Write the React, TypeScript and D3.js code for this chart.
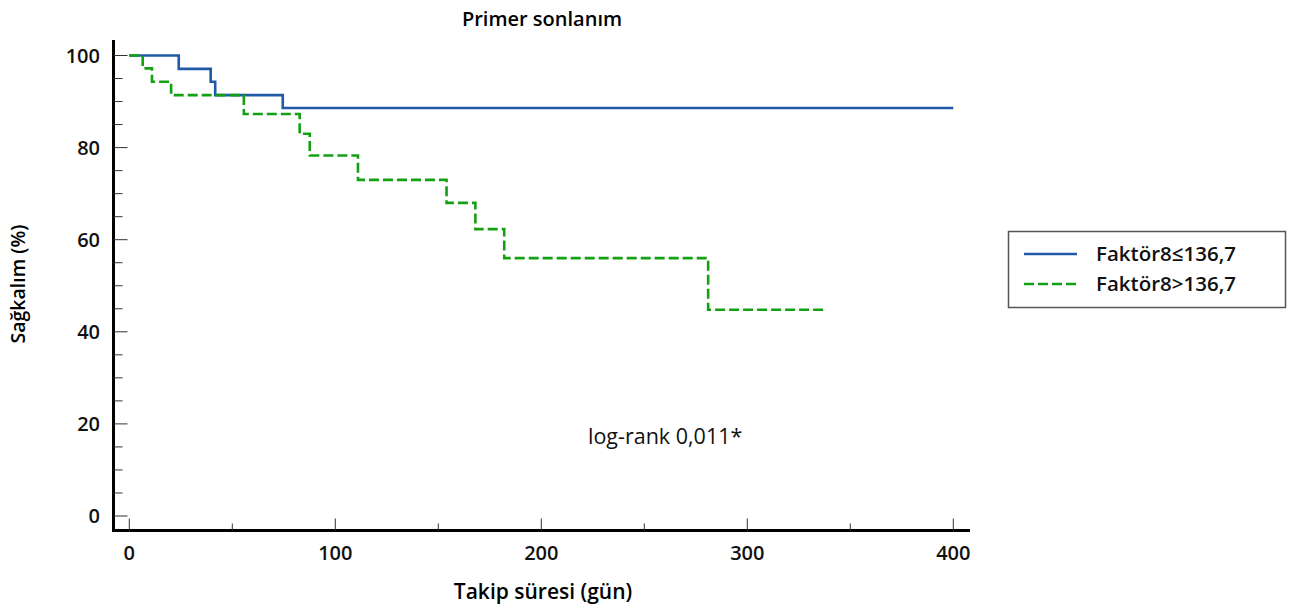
import React, { useEffect, useRef } from "react";
import * as d3 from "d3";

// Kaplan-Meier steps
const lowTimes = [0, 24, 39.5, 41.7, 74.5, 400];
const lowSurv = [100, 97.1, 94.3, 91.4, 88.6, 88.6];
const highTimes = [0, 6.5, 11, 20.3, 55.6, 82.7, 87.6, 111, 154, 168, 182, 281, 338.7];
const highSurv = [100, 97.2, 94.3, 91.4, 87.3, 83.0, 78.3, 73.0, 68.0, 62.3, 56.0, 44.8, 44.8];
const seriesNames = ["Faktör8≤136,7", "Faktör8>136,7"];
const xTicks = [0, 100, 200, 300, 400];
const yTicks = [0, 20, 40, 60, 80, 100];

export default function App() {
  const ref = useRef<SVGSVGElement>(null);

  useEffect(() => {
    const svg = d3.select(ref.current);
    svg.selectAll("*").remove();
    const font = "'Open Sans', sans-serif";

    const x = d3.scaleLinear().domain([0, 400]).range([129.3, 953.3]);
    const y = d3.scaleLinear().domain([0, 100]).range([516, 55.5]);
    const left = 113.5;
    const bottom = 530.5;

    // axes frame
    svg.append("line").attr("x1", left).attr("x2", left).attr("y1", 40).attr("y2", bottom + 1.5)
      .attr("stroke", "#000").attr("stroke-width", 3);
    svg.append("line").attr("x1", left - 1.5).attr("x2", 970).attr("y1", bottom).attr("y2", bottom)
      .attr("stroke", "#000").attr("stroke-width", 3);

    // y ticks (inward)
    d3.range(0, 101, 5).forEach((v) => {
      const major = v % 20 === 0;
      svg.append("line").attr("x1", left).attr("x2", left + (major ? 14 : 9))
        .attr("y1", y(v)).attr("y2", y(v)).attr("stroke", "#333").attr("stroke-width", 1);
    });
    svg.append("g").selectAll("text").data(yTicks).enter().append("text")
      .attr("x", 100).attr("y", (d) => y(d)).attr("dy", "0.36em")
      .attr("text-anchor", "end").attr("font-family", font).attr("font-weight", 600)
      .attr("font-size", 20).attr("fill", "#111").text((d) => d);

    // x ticks (inward)
    d3.range(0, 401, 50).forEach((v) => {
      const major = v % 100 === 0;
      svg.append("line").attr("x1", x(v)).attr("x2", x(v))
        .attr("y1", bottom).attr("y2", bottom - (major ? 12 : 7)).attr("stroke", "#333").attr("stroke-width", 1);
    });
    svg.append("g").selectAll("text").data(xTicks).enter().append("text")
      .attr("x", (d) => x(d)).attr("y", 560)
      .attr("text-anchor", "middle").attr("font-family", font).attr("font-weight", 600)
      .attr("font-size", 20).attr("fill", "#111").text((d) => d);

    // titles
    svg.append("text").attr("x", 542).attr("y", 26).attr("text-anchor", "middle")
      .attr("font-family", font).attr("font-weight", 600).attr("font-size", 20).text("Primer sonlanım");
    svg.append("text").attr("x", 543).attr("y", 599).attr("text-anchor", "middle")
      .attr("font-family", font).attr("font-weight", 600).attr("font-size", 21).text("Takip süresi (gün)");
    svg.append("text").attr("transform", "translate(25,284) rotate(-90)").attr("text-anchor", "middle")
      .attr("font-family", font).attr("font-weight", 600).attr("font-size", 19.5).text("Sağkalım (%)");

    svg.append("text").attr("x", 588).attr("y", 444)
      .attr("font-family", font).attr("font-weight", 500).attr("font-size", 21.5).attr("fill", "#111")
      .text("log-rank 0,011*");

    const line = d3.line<[number, number]>()
      .x((d) => x(d[0])).y((d) => y(d[1])).curve(d3.curveStepAfter);

    const lowPts = lowTimes.map((t, i) => [t, lowSurv[i]] as [number, number]);
    const highPts = highTimes.map((t, i) => [t, highSurv[i]] as [number, number]);

    svg.append("path").attr("d", line(lowPts)).attr("fill", "none")
      .attr("stroke", "#1f5aa6").attr("stroke-width", 2.6);
    svg.append("path").attr("d", line(highPts)).attr("fill", "none")
      .attr("stroke", "#13a113").attr("stroke-width", 2.6).attr("stroke-dasharray", "10,4");

    // legend
    const lg = svg.append("g");
    lg.append("rect").attr("x", 1008.5).attr("y", 231.5).attr("width", 277).attr("height", 76)
      .attr("fill", "#fff").attr("stroke", "#555").attr("stroke-width", 1.5);
    const colors = ["#1f5aa6", "#13a113"];
    const dashes = ["none", "10,4"];
    seriesNames.forEach((name, i) => {
      const yy = 254 + i * 30;
      lg.append("line").attr("x1", 1024).attr("x2", 1077).attr("y1", yy).attr("y2", yy)
        .attr("stroke", colors[i]).attr("stroke-width", 2.6).attr("stroke-dasharray", dashes[i]);
      lg.append("text").attr("x", 1096).attr("y", yy).attr("dy", "0.36em")
        .attr("font-family", font).attr("font-weight", 600).attr("font-size", 20.5)
        .attr("fill", "#111").text(name);
    });
  }, []);

  return <svg ref={ref} width={1291} height={608} style={{ position: "absolute", left: 0, top: 0 }}></svg>;
}
